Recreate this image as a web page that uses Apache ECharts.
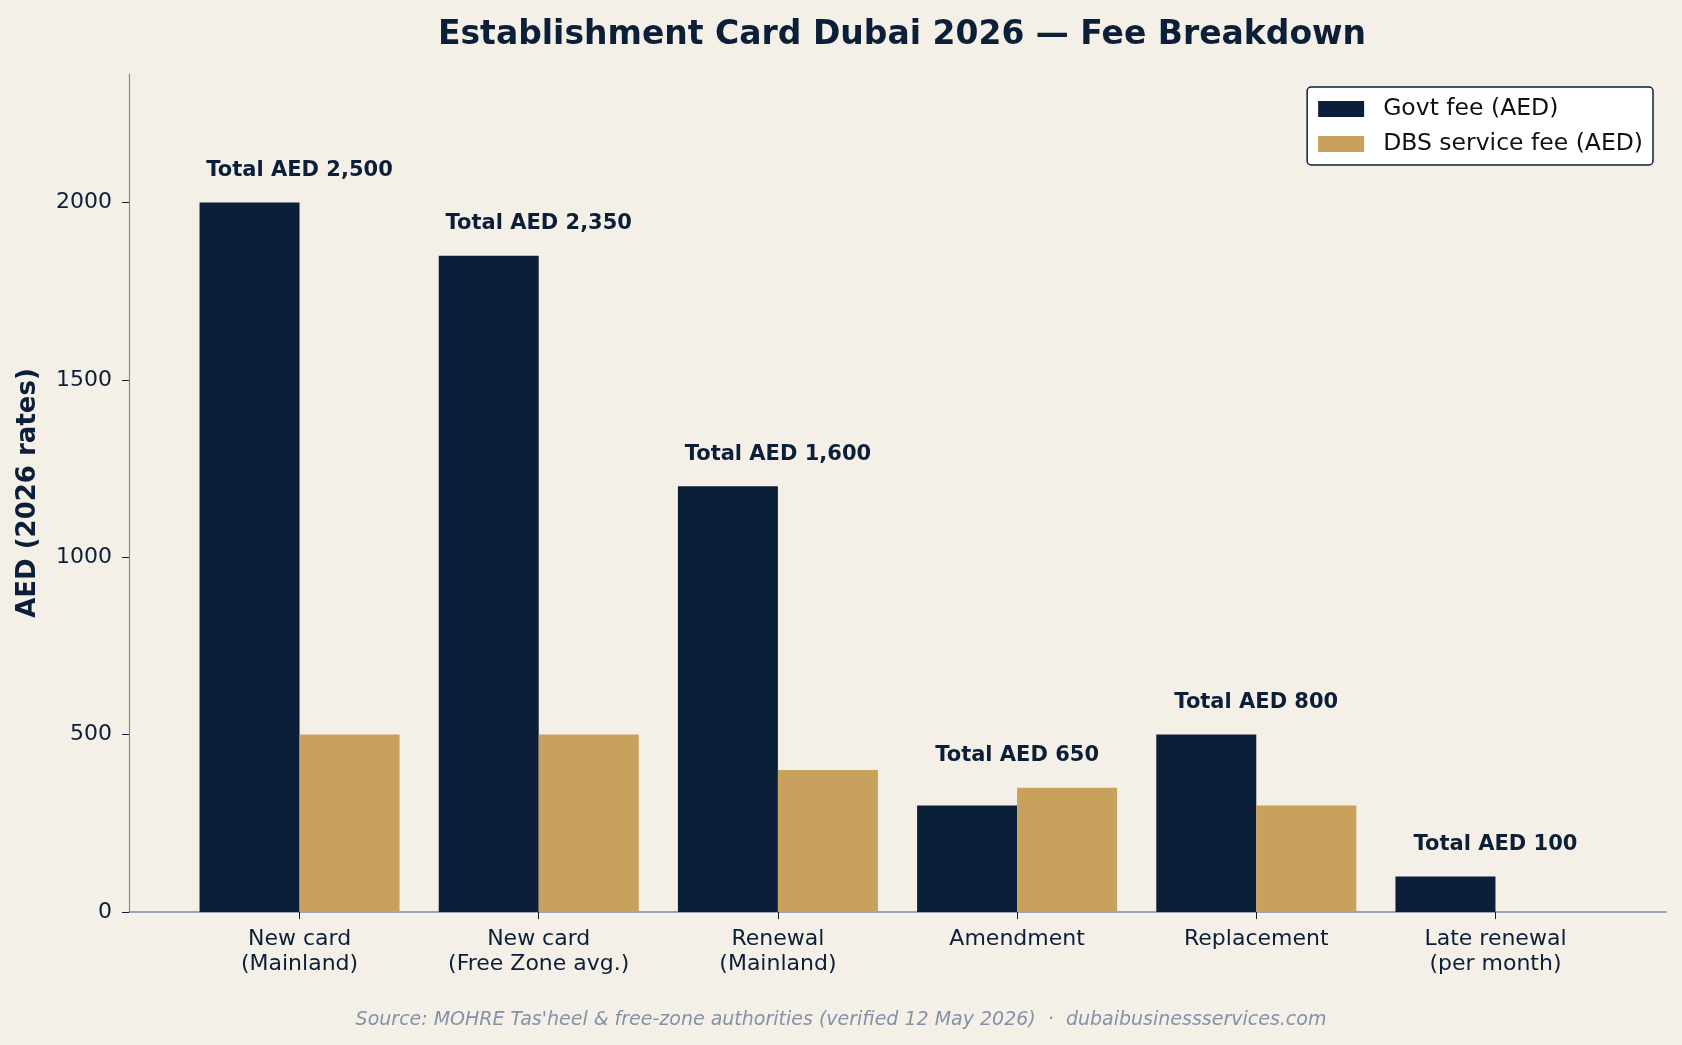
<!DOCTYPE html>
<html>
<head>
  <meta charset="utf-8">
  <title>Establishment Card Dubai 2026</title>
  <script src="https://cdn.jsdelivr.net/npm/echarts@6/dist/echarts.min.js"></script>
  <style>
    html, body { margin: 0; padding: 0; background: #f4f0e8; }
    #main { width: 1682px; height: 1045px; }
  </style>
</head>
<body>
<div id="main"></div>
<script>
  // chart data
  var categories = ['New card\n(Mainland)', 'New card\n(Free Zone avg.)', 'Renewal\n(Mainland)', 'Amendment', 'Replacement', 'Late renewal\n(per month)'];
  var govtFee = [2000, 1850, 1200, 300, 500, 100];
  var dbsFee = [500, 500, 400, 350, 300, 0];
  var yTicks = [0, 500, 1000, 1500, 2000];

  var navy = '#0c1f38';
  var gold = '#c8a25c';
  var axisGrey = '#7f8ba3';
  var font = 'DejaVu Sans';

  // label points sit on top of the taller bar of each pair
  var totals = [];
  for (var i = 0; i < categories.length; i++) {
    totals.push([i, Math.max(govtFee[i], dbsFee[i]), govtFee[i] + dbsFee[i]]);
  }

  var chart = echarts.init(document.getElementById('main'));
  var option = {
    backgroundColor: '#f4f0e8',
    textStyle: { fontFamily: font },
    animation: false,
    title: {
      text: 'Establishment Card Dubai 2026 \u2014 Fee Breakdown',
      left: 897,
      textAlign: 'center',
      top: 14,
      textStyle: { fontFamily: font, fontSize: 33, fontWeight: 'bold', color: navy }
    },
    graphic: [{
      type: 'text',
      left: 'center',
      top: 1011,
      style: {
        text: "Source: MOHRE Tas'heel & free-zone authorities (verified 12 May 2026)  \u00b7  dubaibusinessservices.com",
        font: 'italic 19px "DejaVu Sans"',
        fill: '#8591a8'
      }
    }],
    legend: {
      right: 29,
      top: 87,
      orient: 'vertical',
      icon: 'rect',
      itemWidth: 46,
      itemHeight: 16,
      itemGap: 11,
      padding: [10, 10, 9, 11],
      backgroundColor: '#ffffff',
      borderColor: navy,
      borderWidth: 1.5,
      borderRadius: 4,
      data: ['Govt fee (AED)', 'DBS service fee (AED)'],
      textStyle: { fontFamily: font, fontSize: 23.5, color: '#111111', padding: [0, 0, 0, 14] }
    },
    grid: { left: 129, right: 16, top: 74, bottom: 133, containLabel: false },
    xAxis: {
      type: 'value',
      min: -0.713,
      max: 5.713,
      splitLine: { show: false },
      axisLine: { show: true, onZero: false, lineStyle: { color: axisGrey, width: 1.5 } },
      axisTick: { show: true, length: 7, lineStyle: { color: navy }, customValues: [0, 1, 2, 3, 4, 5] },
      axisLabel: {
        customValues: [0, 1, 2, 3, 4, 5],
        formatter: function (v) { return categories[Math.round(v)]; },
        fontFamily: font, fontSize: 22, color: navy, lineHeight: 25, margin: 15
      }
    },
    yAxis: {
      type: 'value',
      min: 0,
      max: 2362,
      interval: 500,
      name: 'AED (2026 rates)',
      nameLocation: 'middle',
      nameGap: 88,
      nameTextStyle: { fontFamily: font, fontSize: 26, fontWeight: 'bold', color: navy },
      splitLine: { show: false },
      axisLine: { show: true, onZero: false, lineStyle: { color: axisGrey, width: 1.2 } },
      axisTick: { show: true, length: 7, lineStyle: { color: navy } },
      axisLabel: {
        fontFamily: font, fontSize: 22, color: navy, margin: 17,
        showMaxLabel: false,
        formatter: function (v) { return yTicks.indexOf(v) >= 0 ? String(v) : ''; }
      }
    },
    series: [
      {
        name: 'Govt fee (AED)',
        type: 'bar',
        barWidth: 100,
        barGap: '0%',
        itemStyle: { color: navy },
        data: govtFee.map(function (v, i) { return [i, v]; })
      },
      {
        name: 'DBS service fee (AED)',
        type: 'bar',
        barWidth: 100,
        barGap: '0%',
        itemStyle: { color: gold },
        data: dbsFee.map(function (v, i) { return [i, v]; })
      },
      {
        name: 'totals',
        type: 'scatter',
        symbolSize: 0,
        silent: true,
        itemStyle: { opacity: 1 },
        data: totals,
        label: {
          show: true,
          position: 'top',
          distance: 21,
          fontFamily: font,
          fontSize: 21,
          lineHeight: 22,
          fontWeight: 'bold',
          color: navy,
          opacity: 1,
          formatter: function (p) {
            return 'Total AED ' + p.value[2].toLocaleString('en-US');
          }
        }
      }
    ]
  };
  chart.setOption(option);
</script>
</body>
</html>
